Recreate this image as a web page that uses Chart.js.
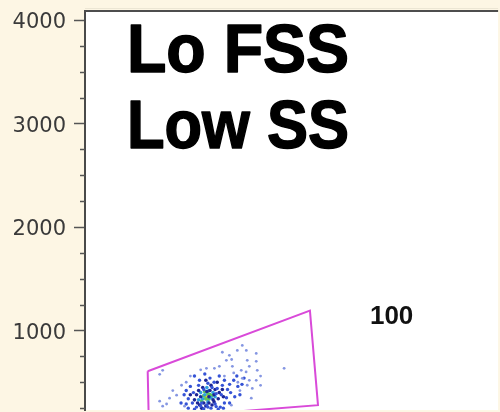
<!DOCTYPE html>
<html>
<head>
<meta charset="utf-8">
<script src="https://cdn.jsdelivr.net/npm/chart.js@4"></script>
<style>
  html, body { margin: 0; padding: 0; background: #fdf6e4; }
  #wrap { width: 500px; height: 412px; position: relative; }
</style>
</head>
<body>
<div id="wrap"><canvas id="c"></canvas></div>
<script>
// Side-scatter axis labels and range
const yTickValues = [1000, 2000, 3000, 4000];
const yRange = [231, 4087];
const xRange = [0, 4000];

// Panel annotation and gate count
const titleLines = ['Lo FSS', 'Low SS'];
const gateCount = '100';
const gateLabelPos = { x: 2969, y: 1135 };

// Gate polygon (FS, SS)
const gateVertices = [
  { x: 607, y: 606 }, { x: 2178, y: 1192 }, { x: 2256, y: 279 },
  { x: 617, y: 150 }, { x: 607, y: 606 }
];

// Events, grouped by density colour
const eventsSparse = [
  [1523,856],[1475,808],[1562,808],[1398,760],[1658,779],[1571,712],[1658,702],
  [1369,712],[1928,635],[1591,654],[1668,615],[1513,615],[1427,654],[1301,654],
  [1253,635],[1176,635],[752,615],[723,577],[1523,538],[1591,519],[1658,519],
  [1571,471],[1610,346],[935,471],[887,375],[819,346],[723,317],[752,269],
  [964,269],[1417,279],[1440,590],[1350,560],[1700,560],[1480,500],[1020,560],
  [980,500],[1120,620],[1620,440],[1700,470],[850,420],[790,290],[1500,420],
  [1560,600],[1420,720],[1330,790]
];
const eventsBlue = [
  [1060,560],[1109,520],[1160,580],[1210,540],[1250,500],[1300,560],[1350,520],
  [1400,480],[1440,520],[1480,460],[1380,430],[1330,470],[1280,440],[1020,460],
  [980,420],[1050,400],[1100,470],[1150,430],[1190,490],[1230,450],[1270,390],
  [1320,380],[1370,350],[1410,400],[1450,360],[1520,480],[1500,380],[1000,340],
  [960,380],[1040,300],[1080,260],[1130,300],[1190,260],[1260,290],[1310,260],
  [1350,300],[1400,300],[930,300],[1470,560],[1540,540],[1000,250],[1060,240],
  [1150,245],[1220,250],[1290,240],[1120,270],[980,290],[1180,280],[1270,265],
  [1340,250]
];
const eventsNavy = [
  [1100,420],[1140,450],[1180,410],[1220,470],[1260,430],[1300,400],[1080,380],
  [1120,360],[1200,360],[1240,330],[1290,340],[1060,330],[1150,300],[1230,280],
  [1330,430],[1170,520],[1210,420],[1110,280],[1280,500],[1340,360],[1020,380],
  [1250,380],[1130,250],[1200,300],[1170,270],[1090,300],[1250,310]
];
const eventsCyan = [
  [1120,400],[1160,380],[1200,420],[1240,400],[1180,450],[1140,340],[1220,350],
  [1100,330],[1260,360],[1190,310]
];
const eventsGreen = [
  [1150,370],[1190,390],[1170,340],[1210,380],[1230,370],[1160,410],[1200,340],
  [1130,320]
];
const eventsYellow = [[1180,360],[1200,355],[1170,350]];
const eventsOrange = [[1190,335],[1186,346]];

const toXY = arr => arr.map(p => ({ x: p[0], y: p[1] }));
const dotSet = (data, color, r) => ({
  type: 'scatter', data: toXY(data), backgroundColor: color,
  pointRadius: r, pointBorderWidth: 0, pointHoverRadius: r
});

const panelPlugin = {
  id: 'panel',
  beforeDraw(chart) {
    const { ctx, chartArea: a } = chart;
    ctx.save();
    ctx.fillStyle = '#fdf6e4';
    ctx.fillRect(0, 0, chart.width, chart.height);
    ctx.fillStyle = '#ffffff';
    ctx.fillRect(a.left, a.top, a.right - a.left, a.bottom - a.top);
    ctx.restore();
  },
  afterDraw(chart) {
    const { ctx, chartArea: a, scales } = chart;
    const ys = scales.y;
    ctx.save();
    // top frame
    ctx.strokeStyle = '#ece6d4';
    ctx.lineWidth = 1;
    ctx.beginPath(); ctx.moveTo(a.left, a.top - 2.5); ctx.lineTo(a.right, a.top - 2.5); ctx.stroke();
    ctx.strokeStyle = '#4d4d4d';
    ctx.lineWidth = 2;
    ctx.beginPath(); ctx.moveTo(a.left - 1, a.top); ctx.lineTo(a.right, a.top); ctx.stroke();
    // minor ticks
    ctx.strokeStyle = '#555';
    ctx.lineWidth = 1.5;
    for (let v = 250; v < yRange[1]; v += 250) {
      if (v % 1000 === 0) continue;
      const py = Math.round(ys.getPixelForValue(v)) + 0.5;
      ctx.beginPath(); ctx.moveTo(a.left - 5, py); ctx.lineTo(a.left, py); ctx.stroke();
    }
    // gate count
    ctx.fillStyle = '#111';
    ctx.font = 'bold 26px "Liberation Sans", Arial, sans-serif';
    ctx.textAlign = 'center';
    ctx.textBaseline = 'middle';
    ctx.fillText(gateCount, scales.x.getPixelForValue(gateLabelPos.x), ys.getPixelForValue(gateLabelPos.y));
    // panel title
    ctx.fillStyle = '#000';
    ctx.font = 'bold 68px "Comic Sans MS", "Liberation Sans", sans-serif';
    ctx.textAlign = 'left';
    ctx.textBaseline = 'alphabetic';
    ctx.lineJoin = 'round';
    ctx.strokeStyle = '#000';
    ctx.lineWidth = 1.5;
    const baselines = [72, 148];
    titleLines.forEach((t, i) => {
      const w = ctx.measureText(t).width;
      const sx = 222 / w;
      ctx.save();
      ctx.translate(127, baselines[i]);
      ctx.scale(sx, 1);
      ctx.fillText(t, 0, 0);
      ctx.strokeText(t, 0, 0);
      ctx.restore();
    });
    ctx.restore();
  }
};

new Chart(document.getElementById('c'), {
  type: 'scatter',
  data: {
    datasets: [
      {
        type: 'scatter', data: gateVertices, showLine: true, fill: false,
        borderColor: '#d94ad9', borderWidth: 2, pointRadius: 0, tension: 0
      },
      dotSet(eventsSparse, '#8596e2', 1.4),
      dotSet(eventsBlue, '#3553d6', 1.7),
      dotSet(eventsNavy, '#1c2596', 1.8),
      dotSet(eventsCyan, '#2f9fe0', 1.8),
      dotSet(eventsGreen, '#5cc65a', 1.9),
      dotSet(eventsYellow, '#e6d02a', 1.9),
      dotSet(eventsOrange, '#d7861e', 1.9)
    ]
  },
  options: {
    responsive: true,
    maintainAspectRatio: false,
    animation: false,
    layout: { padding: { top: 11, right: 0, bottom: 0, left: 0 } },
    plugins: { legend: { display: false }, tooltip: { enabled: false } },
    scales: {
      x: { type: 'linear', min: xRange[0], max: xRange[1], display: false },
      y: {
        type: 'linear', min: yRange[0], max: yRange[1],
        afterBuildTicks: s => { s.ticks = yTickValues.map(v => ({ value: v })); },
        afterFit: s => { s.width = 85; s.paddingTop = 0; s.paddingBottom = 0; },
        ticks: {
          color: '#3a3a3a', padding: 8, labelOffset: 3,
          callback: v => String(v),
          font: { family: '"DejaVu Sans", sans-serif', size: 21 }
        },
        grid: { drawOnChartArea: false, tickLength: 11, tickColor: '#555', tickWidth: 1.5 },
        border: { display: true, color: '#4a4a4a', width: 2 }
      }
    }
  },
  plugins: [panelPlugin]
});
</script>
</body>
</html>
